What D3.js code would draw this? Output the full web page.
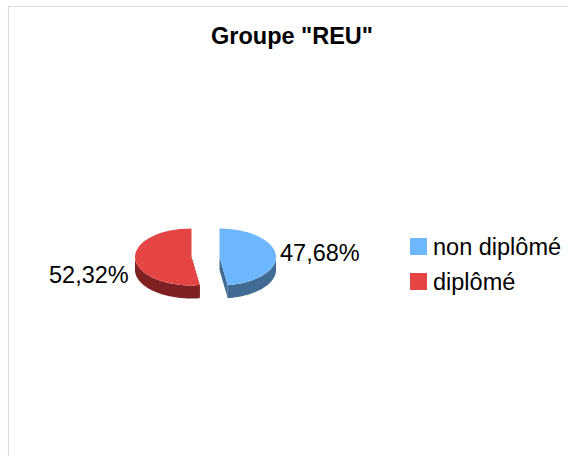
<!DOCTYPE html>
<html>
<head>
<meta charset="utf-8">
<script src="https://cdn.jsdelivr.net/npm/d3@7"></script>
<style>
html,body{margin:0;padding:0;background:#fff;overflow:hidden}
svg{display:block}
text{font-family:"Liberation Sans",Arial,sans-serif;fill:#000;font-size:23.5px}
</style>
</head>
<body>
<svg id="c" width="568" height="456"></svg>
<script>
const title = 'Groupe "REU"';
const categories = ["non diplômé", "diplômé"];
const values = [47.68, 52.32];
const valueLabels = ["47,68%", "52,32%"];
const topColors = ["#6db7ff", "#e64545"];
const sideColors = ["#426b94", "#7f2022"];

const svg = d3.select("#c");
svg.append("path").attr("d","M8.5 456V6.5H568").attr("fill","none").attr("stroke","#dcdcdc").attr("stroke-width",1.2);
svg.append("text").attr("x",292).attr("y",44).attr("text-anchor","middle").attr("font-weight","bold").text(title);

const rx = 56.5, ry = 28.5, depth = 13, cy = 257;
const centers = [219.5, 191.5];
const pie = d3.pie().sort(null)(values);
const pt = (cx,a,dy=0)=>[cx+rx*Math.sin(a), cy-ry*Math.cos(a)+dy];
const line = d3.line();

pie.forEach((s,i)=>{
  const cx = centers[i];
  const g = svg.append("g");
  // cut faces
  [s.startAngle,s.endAngle].forEach(a=>{
    g.append("path").attr("fill",sideColors[i])
      .attr("d",line([[cx,cy],[cx,cy+depth],pt(cx,a,depth),pt(cx,a)])+"Z");
  });
  // outer wall: visible only on the front half
  const a0 = Math.max(s.startAngle,Math.PI/2), a1 = Math.min(s.endAngle,Math.PI*1.5);
  if(a1>a0){
    const angs = d3.range(0,61).map(k=>a0+(a1-a0)*k/60);
    const edge = angs.map(a=>pt(cx,a)).concat(angs.slice().reverse().map(a=>pt(cx,a,depth)));
    g.append("path").attr("fill",sideColors[i]).attr("d",line(edge)+"Z");
  }
  // top face
  const arc = d3.arc().innerRadius(0).outerRadius(rx);
  g.append("path").attr("fill",topColors[i])
    .attr("transform",`translate(${cx},${cy}) scale(1,${ry/rx})`)
    .attr("d",arc(s));
});

const labelPos = [[280,261],[49,283]];
valueLabels.forEach((t,i)=>svg.append("text").attr("x",labelPos[i][0]).attr("y",labelPos[i][1]).text(t));

const legendY = d3.scalePoint().domain(categories).range([238,273]);
categories.forEach((c,i)=>{
  const y = legendY(c);
  svg.append("rect").attr("x",410).attr("y",y).attr("width",17).attr("height",17).attr("fill",topColors[i]);
  svg.append("text").attr("x",433).attr("y",y+17).text(c);
});
</script>
</body>
</html>
